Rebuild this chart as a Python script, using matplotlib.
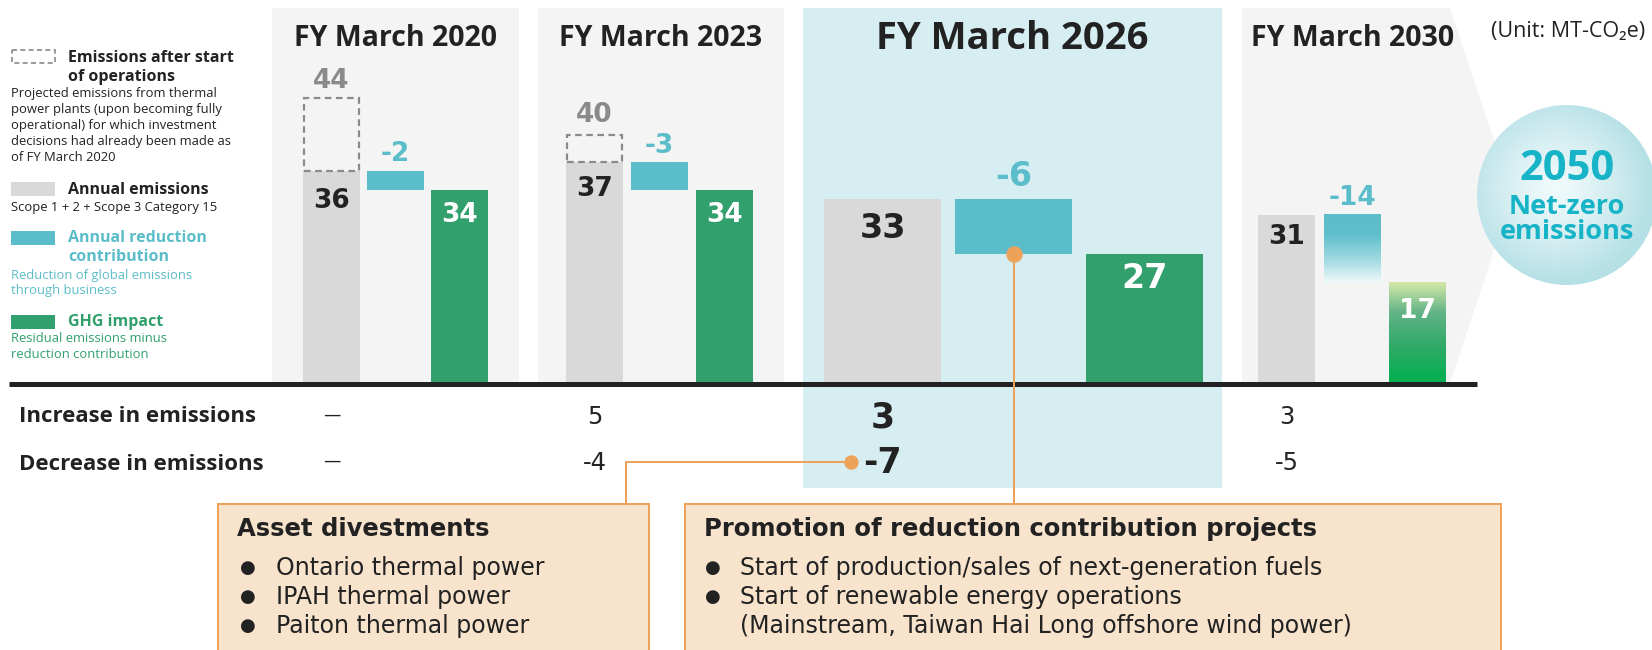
"""GHG emissions overview: annual emissions, reduction contribution and GHG impact."""

import matplotlib
matplotlib.use("Agg")
import matplotlib.pyplot as plt
import numpy as np
from matplotlib.colors import to_rgb
from matplotlib.patches import Circle, Polygon, Rectangle

# ---- data ----
periods = ["FY March 2020", "FY March 2023", "FY March 2026", "FY March 2030"]
annual_emissions = [36, 37, 33, 31]
projected_emissions = [44, 40, None, None]
reduction_contribution = [-2, -3, -6, -14]
ghg_impact = [34, 34, 27, 17]
increase_in_emissions = [None, 5, 3, 3]
decrease_in_emissions = [None, -4, -7, -5]
asset_divestments = ["Ontario thermal power", "IPAH thermal power", "Paiton thermal power"]
reduction_projects = [
    ["Start of production/sales of next-generation fuels"],
    ["Start of renewable energy operations",
     "(Mainstream, Taiwan Hai Long offshore wind power)"],
]

# ---- style ----
W, H, DPI = 1652, 650, 100
PX = 72 / DPI  # points per pixel
DARK = "#222222"
GREY_BAR = "#d9d9d9"
GREY_TXT = "#8a8a8a"
CYAN = "#5bbdc9"
GREEN = "#31a06c"
PANEL = "#f4f4f4"
PANEL_HI = "#d6eef2"
ORANGE = "#eda25a"
PEACH = "#f8e3cc"
TEAL = "#17b3c7"
WIDE = "DejaVu Sans"  # wider face used for numbers and callout text
plt.rcParams["font.family"] = ["Open Sans", "DejaVu Sans"]

BASE_Y = 383
TOP_Y = 8
PANEL_X = [(272, 519), (538, 784), (803, 1222), (1242, 1450)]
GREY_X = [331.5, 594.5, 882.5, 1286.5]
STEP = [64, 65, 131, 65.5]
BAR_W = [57, 57, 117, 57]
TITLE_X = [395, 661, 1012, 1353]
TITLE_SIZE = [20.5, 20.5, 27.5, 20.5]
NUM_SIZE = [19, 19, 24, 19]
# label offsets in pixels (positive = above the reference edge)
OFF_PROJ = [17, 20]
OFF_ANNUAL = [-30, -27, -29, -22]
OFF_RED = [17, 16, 23, 17]
OFF_GHG = [-25, -25, -24, -28]

fig = plt.figure(figsize=(W / DPI, H / DPI), dpi=DPI)


def px_axes(zorder, y0=0, y1=H):
    a = fig.add_axes([0, (H - y1) / H, 1, (y1 - y0) / H], zorder=zorder)
    a.axis("off")
    a.patch.set_alpha(0)
    return a


bg = px_axes(0)
bg.set_xlim(0, W)
bg.set_ylim(H, 0)

# bar axes: panels 1-3 share one scale, the 2030 panel is drawn on its own scale
ax = px_axes(2, TOP_Y, BASE_Y)
ax.set_xlim(0, W)
ax.set_ylim(13, 13 + (BASE_Y - TOP_Y) / 9.2)
ax4 = px_axes(2, TOP_Y, BASE_Y)
ax4.set_xlim(0, W)
ax4.set_ylim(-3.6, -3.6 + (BASE_Y - TOP_Y) / 4.86)

fg = px_axes(5)
fg.set_xlim(0, W)
fg.set_ylim(H, 0)

# ---- panel backgrounds ----
for i, (x0, x1) in enumerate(PANEL_X[:3]):
    y1 = 488 if i == 2 else BASE_Y
    bg.add_patch(Rectangle((x0, TOP_Y), x1 - x0, y1 - TOP_Y,
                           fc=PANEL_HI if i == 2 else PANEL, ec="none"))
bg.add_patch(Polygon([(1242, TOP_Y), (1450, TOP_Y), (1494, 140), (1494, 250),
                      (1450, BASE_Y), (1242, BASE_Y)], closed=True, fc=PANEL, ec="none"))

for i, name in enumerate(periods):
    bg.text(TITLE_X[i], 39 if i == 2 else 38, name, ha="center", va="center",
            fontsize=TITLE_SIZE[i], fontweight="bold", color=DARK)

bg.text(1568, 32, "(Unit: MT-CO\u2082e)", ha="center", va="center", fontsize=15.5, color=DARK)

# ---- 2050 circle ----
cx, cy, r = 1567, 195, 90
yy, xx = np.mgrid[-1:1:300j, -1:1:300j]
d = np.clip(np.hypot(xx + 0.12, yy + 0.08) / 1.05, 0, 1) ** 1.3
c_in, c_out = np.array(to_rgb("#f0fafb")), np.array(to_rgb("#b5e0e6"))
img = c_in + (c_out - c_in) * d[..., None]
im = bg.imshow(img, extent=(cx - r, cx + r, cy + r, cy - r), zorder=1)
im.set_clip_path(Circle((cx, cy), r, transform=bg.transData))
bg.text(cx, 170, "2050", ha="center", va="center", fontsize=30, fontweight="bold", color=TEAL, zorder=3)
bg.text(cx, 207, "Net-zero", ha="center", va="center", fontsize=19.5, fontweight="bold", color=TEAL, zorder=3)
bg.text(cx, 232, "emissions", ha="center", va="center", fontsize=19.5, fontweight="bold", color=TEAL, zorder=3)


# ---- bars ----
def gradient_bar(a, x, w, bottom, top, stops):
    a.bar(x, top - bottom, w, bottom=bottom, color="none", linewidth=0)
    t = np.linspace(0, 1, 256)
    pos = [s[0] for s in stops]
    cols = np.array([to_rgb(s[1]) for s in stops])
    grad = np.stack([np.interp(t, pos, cols[:, k]) for k in range(3)], axis=-1)[:, None, :]
    a.imshow(grad, extent=(x - w / 2, x + w / 2, bottom, top), aspect="auto",
             origin="upper", zorder=2)


def label(a, x, y, off, text, size, color):
    a.annotate(text, xy=(x, y), xytext=(0, off * PX), textcoords="offset points",
               ha="center", va="center", fontsize=size, fontweight="bold", color=color,
               family=WIDE, zorder=4)


for i in range(4):
    a = ax if i < 3 else ax4
    w = BAR_W[i]
    xg, xr, xn = (GREY_X[i] + STEP[i] * k for k in range(3))
    base = a.get_ylim()[0]
    annual = annual_emissions[i]
    red_top, red_bot = annual, annual + reduction_contribution[i]
    net = ghg_impact[i]

    a.bar(xg, annual - base, w, bottom=base, color=GREY_BAR, zorder=2)
    if projected_emissions[i] is not None:
        a.bar(xg, projected_emissions[i] - annual, w - 2, bottom=annual, fill=False,
              edgecolor="#8a8a8a", linestyle=(0, (3, 2)), linewidth=1.6, zorder=3)
        label(a, xg, projected_emissions[i], OFF_PROJ[i], str(projected_emissions[i]),
              NUM_SIZE[i], GREY_TXT)
    if i < 3:
        a.bar(xr, red_bot - red_top, w, bottom=red_top, color=CYAN, zorder=2)
        a.bar(xn, net - base, w, bottom=base, color=GREEN, zorder=2)
    else:
        gradient_bar(a, xr, w, red_bot, red_top,
                     [(0, "#5bbdc9"), (0.3, "#5fbfcb"), (0.7, "#a9dde4"), (1, "#f2fafb")])
        gradient_bar(a, xn, w, base, net,
                     [(0, "#d3e8a9"), (0.08, "#b8dba0"), (0.3, "#62b487"),
                      (0.6, "#35aa6b"), (1, "#00b04f")])
    label(a, xg, annual, OFF_ANNUAL[i], str(annual), NUM_SIZE[i], DARK)
    label(a, xr, red_top, OFF_RED[i], str(reduction_contribution[i]), NUM_SIZE[i], CYAN)
    label(a, xn, net, OFF_GHG[i], str(net), NUM_SIZE[i], "white")

# ---- baseline ----
fg.plot([9, 1477], [384, 384], color=DARK, lw=5 * PX, solid_capstyle="butt")

# ---- increase / decrease rows ----
bg.text(19, 417, "Increase in emissions", ha="left", va="center", fontsize=16,
        fontweight="bold", color=DARK)
bg.text(19, 464, "Decrease in emissions", ha="left", va="center", fontsize=16,
        fontweight="bold", color=DARK)
for i in range(4):
    hi = i == 2
    for y, v in ((417, increase_in_emissions[i]), (463, decrease_in_emissions[i])):
        if v is None:
            bg.text(GREY_X[i], y - 2, "\u2014", ha="center", va="center", fontsize=12.5,
                    color=DARK, family=WIDE)
            continue
        bg.text(GREY_X[i], y, str(v), ha="center", va="center",
                fontsize=25 if hi else 17.5, fontweight="bold" if hi else "normal",
                color=DARK, family=WIDE)

# ---- legend ----
bg.add_patch(Rectangle((12, 50), 43, 13, fill=False, ec="#8a8a8a", lw=1.2, ls=(0, (3, 2))))
bg.add_patch(Rectangle((11, 182), 44, 14, fc=GREY_BAR, ec="none"))
bg.add_patch(Rectangle((11, 231), 44, 14, fc=CYAN, ec="none"))
bg.add_patch(Rectangle((11, 315), 44, 14, fc=GREEN, ec="none"))

legend_items = [
    (["Emissions after start", "of operations"], 58,
     ["Projected emissions from thermal", "power plants (upon becoming fully",
      "operational) for which investment", "decisions had already been made as",
      "of FY March 2020"], 94, DARK),
    (["Annual emissions"], 190, ["Scope 1 + 2 + Scope 3 Category 15"], 208, DARK),
    (["Annual reduction", "contribution"], 238,
     ["Reduction of global emissions", "through business"], 275, CYAN),
    (["GHG impact"], 322, ["Residual emissions minus", "reduction contribution"], 339, GREEN),
]
for heads, hy, descs, dy, col in legend_items:
    for k, s in enumerate(heads):
        bg.text(68, hy + 19 * k, s, ha="left", va="center", fontsize=11.5,
                fontweight="bold", color=col)
    for k, s in enumerate(descs):
        bg.text(11, dy + 15.8 * k, s, ha="left", va="center", fontsize=9.4, color=col)

# ---- callout boxes ----
BOX_TOP = 504
bg.add_patch(Rectangle((218, BOX_TOP), 431, 170, fc=PEACH, ec=ORANGE, lw=2 * PX))
bg.add_patch(Rectangle((685, BOX_TOP), 816, 170, fc=PEACH, ec=ORANGE, lw=2 * PX))


def callout(x_head, x_bullet, x_text, heading, items):
    bg.text(x_head, 529, heading, ha="left", va="center", fontsize=17.5,
            fontweight="bold", color=DARK, family=WIDE)
    y = 568
    for item in items:
        for k, s in enumerate(item):
            if k == 0:
                bg.text(x_bullet, y, "\u25cf", ha="center", va="center", fontsize=13,
                        color=DARK, family=WIDE)
            bg.text(x_text, y, s, ha="left", va="center", fontsize=17, color=DARK,
                    family=WIDE)
            y += 29


callout(237, 248, 276, "Asset divestments", [[s] for s in asset_divestments])
callout(704, 713, 740, "Promotion of reduction contribution projects", reduction_projects)

# ---- connectors ----
fg.plot([851, 626, 626], [462, 462, BOX_TOP], color=ORANGE, lw=2 * PX)
fg.plot([851], [462], "o", color=ORANGE, ms=13 * PX)
bar_px = ax.transData.transform((GREY_X[2] + STEP[2], ghg_impact[2]))
dot_x, dot_y = fg.transData.inverted().transform(bar_px)
fg.plot([dot_x, dot_x], [dot_y, BOX_TOP], color=ORANGE, lw=2 * PX)
fg.plot([dot_x], [dot_y], "o", color=ORANGE, ms=15 * PX)

fig.savefig("out.png", dpi=DPI)
